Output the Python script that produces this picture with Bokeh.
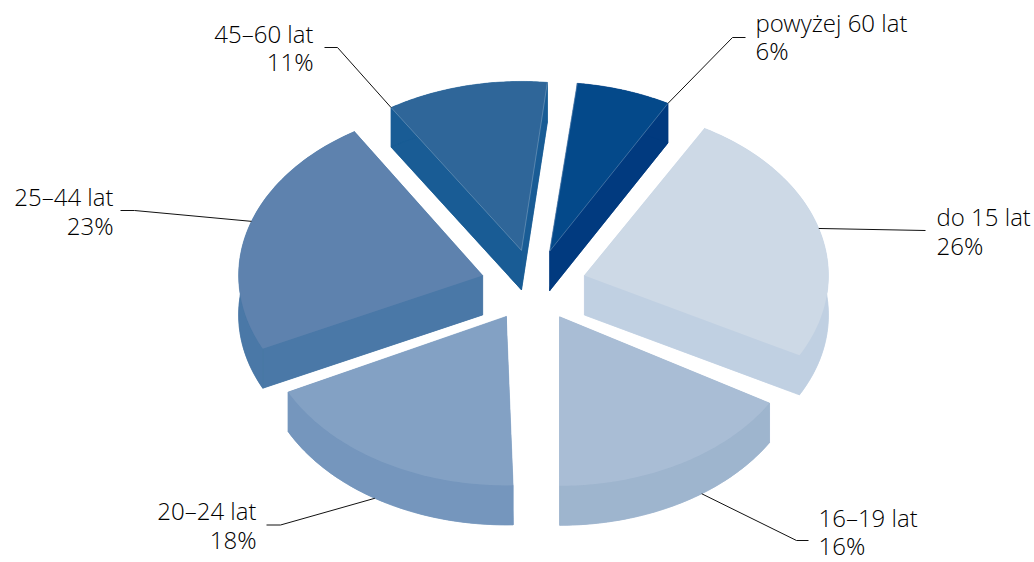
import math
from bokeh.plotting import figure
from bokeh.embed import file_html
from bokeh.resources import INLINE
from bokeh.core.properties import value

# --- data ---
categories = ["do 15 lat", "16\u201319 lat", "20\u201324 lat", "25\u201344 lat", "45\u201360 lat", "powy\u017cej 60 lat"]
shares = [26, 16, 18, 23, 11, 6]

# --- styles / layout ---
top_colors = ["#cdd9e6", "#a9bdd5", "#83a1c4", "#5e82ae", "#2f6699", "#04498a"]
side_colors = ["#c0d0e2", "#9eb5ce", "#7596bd", "#4a78a7", "#195c95", "#013a7f"]
draw_order = [4, 5, 0, 3, 2, 1]
START = 29.5
CX, CY = 533.0, 285.0      # pie centre on the page
RX, RY = 244.0, 169.0      # ellipse radii
EX, EY = 53.0, 36.0        # explosion
DEPTH = 39.5
W, H = 1034, 562

# perspective calibration of the slice edges, degrees
edge_adjust = [(0.0, -4.9), (-2.4, -0.7), (-2.3, -2.1), (-1.2, 0.0), (-0.6, -1.8), (-1.4, -0.5)]
anchor_frac = [0.5, 0.4, 0.526, 0.528, 0.0, 1.0]
anchor_low = [0, 1, 1, 0, 0, 0]
elbows = [[(925, 230)], [(796, 540), (808, 540)], [(280, 524.5), (266, 524.5)],
          [(134, 210), (120, 210)], [(337, 47), (324, 47)], [(732, 37), (745, 37)]]
label_pos = [(936, 225, 254, "left"), (818, 526, 554, "left"), (256, 519, 548, "right"),
             (113, 205, 234, "right"), (313, 42, 70, "right"), (755, 31, 59, "left")]
TEXT_NUDGE = -9            # renderer places alphabetic text this much too low
FONT = "Open Sans Light"
FONT_SIZE = "24px"


def pt(cx, cy, ang):
    a = math.radians(ang)
    return cx + RX * math.sin(a), cy - RY * math.cos(a)


p = figure(width=W, height=H, x_range=(0, W), y_range=(H, 0),
           output_backend="svg", toolbar_location=None, min_border=0,
           outline_line_color=None, background_fill_color="white", border_fill_color="white")
p.axis.visible = False
p.grid.visible = False

cum = 0.0
geom = []
total = sum(shares)
for s, (d0, d1) in zip(shares, edge_adjust):
    a0 = START + cum / total * 360
    cum += s
    a1 = START + cum / total * 360
    geom.append((a0 + d0, a1 + d1))

for i in draw_order:
    a0, a1 = geom[i]
    mid = math.radians((a0 + a1) / 2)
    tx, ty = CX + EX * math.sin(mid), CY - EY * math.cos(mid)
    n = 60
    arc = [pt(tx, ty, a0 + (a1 - a0) * k / n) for k in range(n + 1)]
    ax = [q[0] for q in arc]
    ay = [q[1] for q in arc]
    sec_x = [tx] + ax
    sec_y = [ty] + ay
    # walls: bottom sector + two radial faces + the rim
    xs = [sec_x,
          [tx, ax[0], ax[0], tx],
          [tx, ax[-1], ax[-1], tx],
          ax + ax[::-1]]
    ys = [[v + DEPTH for v in sec_y],
          [ty, ay[0], ay[0] + DEPTH, ty + DEPTH],
          [ty, ay[-1], ay[-1] + DEPTH, ty + DEPTH],
          ay + [v + DEPTH for v in ay[::-1]]]
    p.patches(xs, ys, fill_color=side_colors[i], line_color=side_colors[i], line_width=0.5)
    p.patch(sec_x, sec_y, fill_color=top_colors[i], line_color=None)
    if i >= 4:  # fine highlight along the front edges of the two back slices
        p.multi_line([[tx, ax[0]], [tx, ax[-1]]], [[ty, ay[0]], [ty, ay[-1]]],
                     line_color="white", line_alpha=0.3, line_width=0.8)
    # leader
    anc = a0 + (a1 - a0) * anchor_frac[i]
    sx, sy = pt(tx, ty, anc)
    sy += DEPTH * anchor_low[i]
    lx = [sx] + [q[0] for q in elbows[i]]
    ly = [sy] + [q[1] for q in elbows[i]]
    p.line(lx, ly, line_color="#111111", line_width=1)
    # labels
    x, y1, y2, al = label_pos[i]
    p.text([x, x], [y1 + TEXT_NUDGE, y2 + TEXT_NUDGE], text=[categories[i], f"{shares[i]}%"],
           text_font=value(FONT), text_font_size=FONT_SIZE, text_color="#000000",
           text_align=al, text_baseline="alphabetic")

open("out.html", "w").write(file_html(p, INLINE))
